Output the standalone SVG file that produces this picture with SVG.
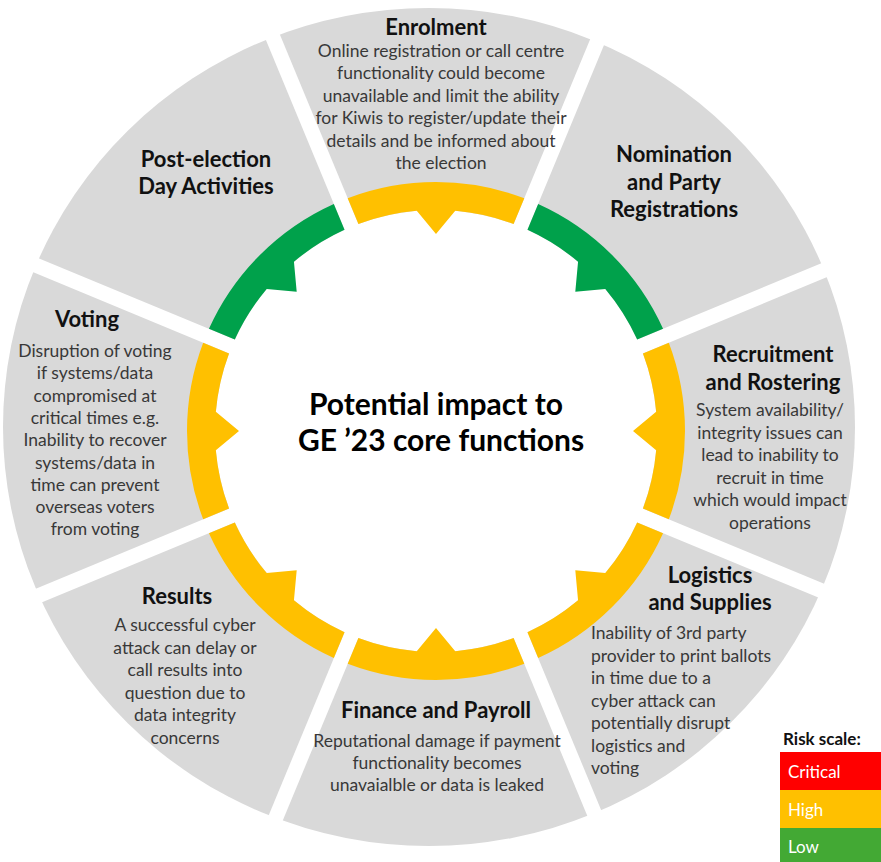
<svg xmlns="http://www.w3.org/2000/svg" xmlns:xlink="http://www.w3.org/1999/xlink" width="881" height="862" viewBox="0 0 881 862">
  <style>
    .title { font-family: Lato, "Liberation Sans", sans-serif; font-weight: bold; font-size: 22px; fill: #111111; text-anchor: middle; }
    .desc { font-family: Lato, "Liberation Sans", sans-serif; font-size: 17.5px; fill: #383838; text-anchor: middle; }
    .left { text-anchor: start; }
    .core { font-family: Lato, "Liberation Sans", sans-serif; font-weight: bold; font-size: 30px; fill: #000000; text-anchor: middle; }
    .legend-head { font-family: Lato, "Liberation Sans", sans-serif; font-weight: bold; font-size: 17px; fill: #111111; }
    .legend-txt { font-family: Lato, "Liberation Sans", sans-serif; font-size: 17px; fill: #ffffff; }
    .high { fill: #FFC000; }
    .low { fill: #00A14B; }
    .gap { stroke: #ffffff; stroke-width: 15; }
  </style>
  <defs>
    <!-- ring segment centred on the top bearing, trimmed to leave a 15px gap at each end, with an inward arrow notch -->
    <path id="arc" d="M347.69,198.19 A249,249 0 0 1 524.31,198.19 L513.59,224.07 A221,221 0 0 0 455.26,210.84 L436,234 L416.74,210.84 A221,221 0 0 0 358.41,224.07 Z"/>
    <!-- white gap between neighbouring segments -->
    <line id="gap" x1="436" y1="231" x2="436" y2="-20"/>
  </defs>

  <g id="backdrop">
    <ellipse cx="429" cy="427" rx="426" ry="419" fill="#D9D9D9"/>
    <use href="#gap" class="gap" transform="rotate(22.5 436 431)"/>
    <use href="#gap" class="gap" transform="rotate(67.5 436 431)"/>
    <use href="#gap" class="gap" transform="rotate(112.5 436 431)"/>
    <use href="#gap" class="gap" transform="rotate(157.5 436 431)"/>
    <use href="#gap" class="gap" transform="rotate(202.5 436 431)"/>
    <use href="#gap" class="gap" transform="rotate(247.5 436 431)"/>
    <use href="#gap" class="gap" transform="rotate(292.5 436 431)"/>
    <use href="#gap" class="gap" transform="rotate(337.5 436 431)"/>
    <circle cx="436" cy="431" r="221" fill="#ffffff"/>
  </g>

  <g id="enrolment">
    <use href="#arc" class="high"/>
    <text class="title" x="436" y="35">Enrolment</text>
    <text class="desc" x="441" y="56.5">Online registration or call centre</text>
    <text class="desc" x="441" y="79">functionality could become</text>
    <text class="desc" x="441" y="101.5">unavailable and limit the ability</text>
    <text class="desc" x="441" y="124">for Kiwis to register/update their</text>
    <text class="desc" x="441" y="146.5">details and be informed about</text>
    <text class="desc" x="441" y="169">the election</text>
  </g>

  <g id="nomination">
    <use href="#arc" class="low" transform="rotate(45 436 431)"/>
    <text class="title" x="674" y="162">Nomination</text>
    <text class="title" x="674" y="189.5">and Party</text>
    <text class="title" x="674" y="217">Registrations</text>
  </g>

  <g id="recruitment">
    <use href="#arc" class="high" transform="rotate(90 436 431)"/>
    <text class="title" x="773" y="362">Recruitment</text>
    <text class="title" x="773" y="390">and Rostering</text>
    <text class="desc" x="770" y="416">System availability/</text>
    <text class="desc" x="770" y="438.5">integrity issues can</text>
    <text class="desc" x="770" y="461">lead to inability to</text>
    <text class="desc" x="770" y="483.5">recruit in time</text>
    <text class="desc" x="770" y="506">which would impact</text>
    <text class="desc" x="770" y="528.5">operations</text>
  </g>

  <g id="logistics">
    <use href="#arc" class="high" transform="rotate(135 436 431)"/>
    <text class="title" x="710" y="583">Logistics</text>
    <text class="title" x="710" y="610">and Supplies</text>
    <text class="desc left" x="591" y="639">Inability of 3rd party</text>
    <text class="desc left" x="591" y="661.5">provider to print ballots</text>
    <text class="desc left" x="591" y="684">in time due to a</text>
    <text class="desc left" x="591" y="706.5">cyber attack can</text>
    <text class="desc left" x="591" y="729">potentially disrupt</text>
    <text class="desc left" x="591" y="751.5">logistics and</text>
    <text class="desc left" x="591" y="774">voting</text>
  </g>

  <g id="finance">
    <use href="#arc" class="high" transform="rotate(180 436 431)"/>
    <text class="title" x="436" y="718">Finance and Payroll</text>
    <text class="desc" x="437" y="747">Reputational damage if payment</text>
    <text class="desc" x="437" y="769">functionality becomes</text>
    <text class="desc" x="437" y="791">unavaialble or data is leaked</text>
  </g>

  <g id="results">
    <use href="#arc" class="high" transform="rotate(225 436 431)"/>
    <text class="title" x="177" y="604">Results</text>
    <text class="desc" x="185" y="631">A successful cyber</text>
    <text class="desc" x="185" y="653.5">attack can delay or</text>
    <text class="desc" x="185" y="676">call results into</text>
    <text class="desc" x="185" y="698.5">question due to</text>
    <text class="desc" x="185" y="721">data integrity</text>
    <text class="desc" x="185" y="743.5">concerns</text>
  </g>

  <g id="voting">
    <use href="#arc" class="high" transform="rotate(270 436 431)"/>
    <text class="title" x="87" y="327">Voting</text>
    <text class="desc" x="95" y="357">Disruption of voting</text>
    <text class="desc" x="95" y="379.3">if systems/data</text>
    <text class="desc" x="95" y="401.6">compromised at</text>
    <text class="desc" x="95" y="423.9">critical times e.g.</text>
    <text class="desc" x="95" y="446.2">Inability to recover</text>
    <text class="desc" x="95" y="468.5">systems/data in</text>
    <text class="desc" x="95" y="490.8">time can prevent</text>
    <text class="desc" x="95" y="513.1">overseas voters</text>
    <text class="desc" x="95" y="535.4">from voting</text>
  </g>

  <g id="post-election">
    <use href="#arc" class="low" transform="rotate(315 436 431)"/>
    <text class="title" x="206" y="167">Post-election</text>
    <text class="title" x="206" y="194">Day Activities</text>
  </g>

  <g id="core">
    <text class="core" x="436" y="415">Potential impact to</text>
    <text class="core" x="441" y="451">GE ’23 core functions</text>
  </g>

  <g id="risk-scale">
    <text class="legend-head" x="783" y="745">Risk scale:</text>
    <rect x="780" y="752" width="101" height="38" fill="#FF0000"/>
    <rect x="780" y="790" width="101" height="38" fill="#FFC000"/>
    <rect x="780" y="828" width="101" height="34" fill="#43A934"/>
    <text class="legend-txt" x="788" y="778">Critical</text>
    <text class="legend-txt" x="788" y="816">High</text>
    <text class="legend-txt" x="788" y="853">Low</text>
  </g>
</svg>
